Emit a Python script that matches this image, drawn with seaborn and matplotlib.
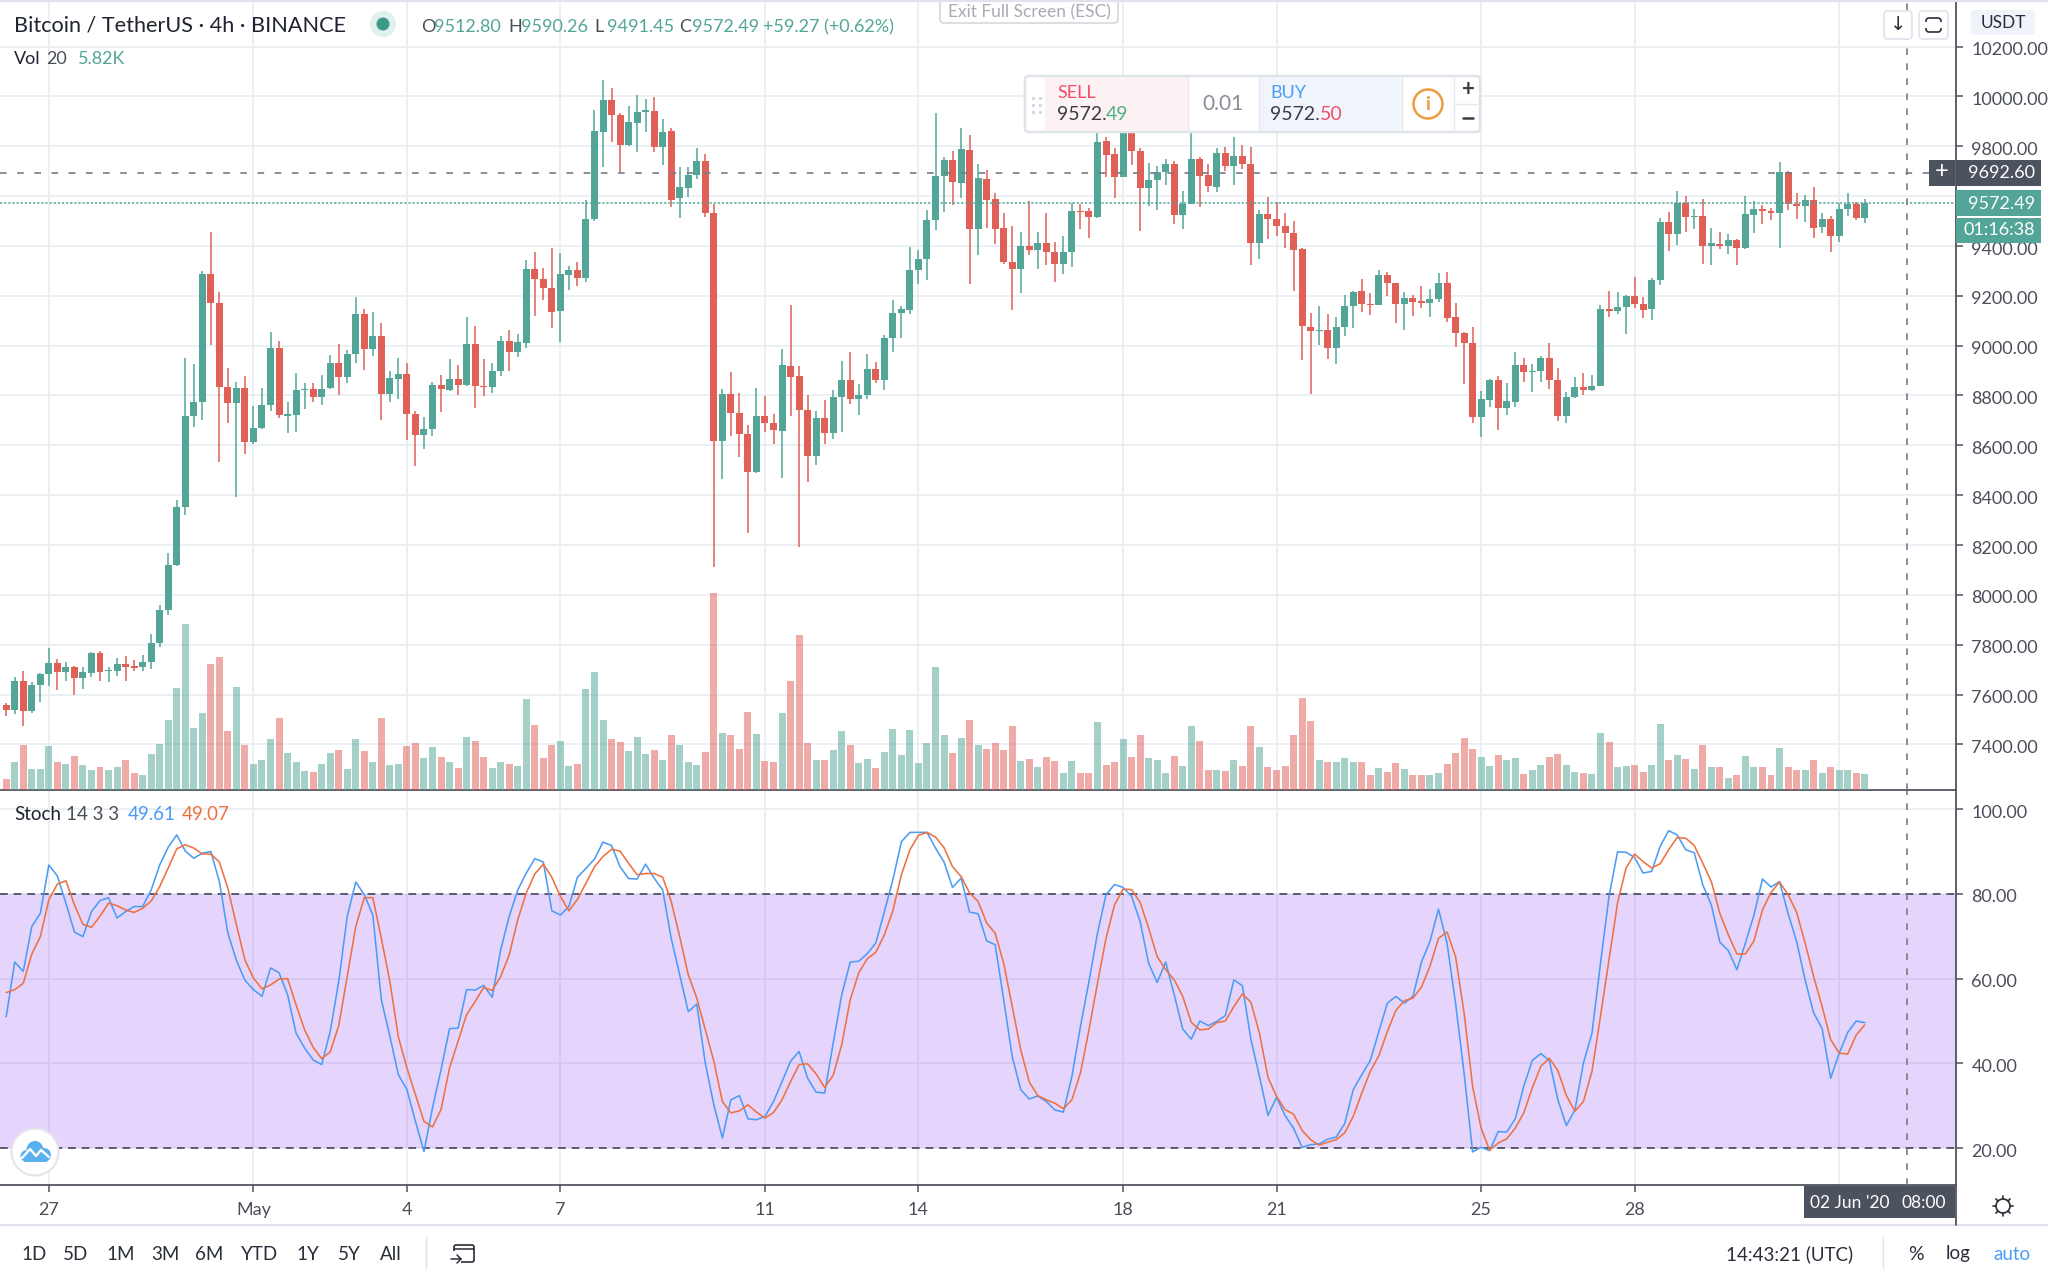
import matplotlib
matplotlib.use("Agg")
import matplotlib.pyplot as plt
from matplotlib.patches import Circle, Ellipse, FancyBboxPatch, Rectangle
from matplotlib.transforms import ScaledTranslation
import numpy as np
import pandas as pd
import seaborn as sns

# 4h candles
opens = [7560,7537,7653,7535,7639,7683,7725,7689,7710,7668,7687,7766,7694,7696,7721,7713,7710,7730,7806,7939,
8118,8353,8717,8772,9286,9173,8833,8770,8829,8615,8668,8761,8992,8719,8723,8822,8827,8795,8829,8932,
8873,8968,9129,8985,9040,8806,8865,8888,8727,8641,8666,8842,8822,8865,8842,9007,8840,8835,8899,9017,
8973,9011,9309,9267,9233,9138,9285,9302,9273,9510,9859,9985,9926,9804,9894,9939,9943,9797,9861,9592,
9634,9685,9740,9533,8617,8808,8730,8645,8493,8717,8691,8658,8920,8877,8740,8556,8711,8651,8795,8861,
8785,8803,8905,8861,9030,9131,9144,9305,9347,9505,9681,9746,9653,9787,9469,9670,9588,9472,9334,9309,
9400,9385,9410,9377,9326,9377,9541,9539,9516,9820,9770,9677,9890,9782,9632,9666,9696,9729,9526,9569,
9748,9683,9637,9772,9719,9761,9729,9410,9529,9508,9480,9453,9387,9076,9059,9063,8990,9074,9159,9218,
9169,9165,9283,9250,9167,9193,9176,9173,9188,9250,9114,9051,9011,8713,8782,8863,8748,8774,8922,8894,
8899,8951,8861,8719,8793,8835,8822,8839,9146,9140,9155,9201,9167,9146,9262,9495,9448,9571,9516,9520,
9398,9408,9398,9423,9391,9526,9548,9539,9531,9696,9569,9562,9584,9476,9510,9440,9550,9567,9512.80]
highs = [7565,7670,7693,7649,7687,7786,7742,7730,7715,7711,7770,7774,7711,7746,7755,7740,7759,7842,7958,8167,
8381,8951,8926,9298,9455,9216,8911,8854,8877,8759,8831,9055,9017,8772,8890,8852,8852,8884,8962,9006,
8981,9195,9146,9135,9089,8899,8951,8932,8736,8713,8856,8884,8947,8924,9116,9080,8947,8932,9038,9063,
9046,9345,9374,9311,9393,9372,9321,9334,9584,9947,10064,10032,9932,9960,10004,9990,9998,9911,9875,9715,
9715,9793,9770,9567,8827,8894,8812,8683,8831,8799,8725,8987,9163,8920,8803,8736,8780,8822,8939,8973,
8846,8968,8933,9042,9184,9161,9395,9383,9543,9935,9759,9780,9873,9844,9727,9706,9611,9533,9482,9455,
9582,9455,9533,9414,9440,9571,9567,9552,9899,9839,9795,9956,9918,9795,9732,9719,9749,9740,9620,9918,
9759,9727,9793,9799,9839,9806,9797,9543,9596,9577,9531,9501,9393,9133,9161,9129,9116,9203,9218,9266,
9212,9304,9294,9252,9214,9205,9241,9226,9292,9294,9173,9055,9076,8818,8867,8878,8852,8973,8949,8926,
8960,9011,8909,8814,8875,8892,8884,9165,9220,9214,9205,9277,9195,9271,9512,9535,9620,9601,9548,9588,
9474,9457,9448,9429,9600,9581,9563,9554,9738,9700,9611,9603,9636,9533,9522,9571,9613,9577,9590.26]
lows = [7514,7522,7472,7526,7569,7634,7619,7653,7598,7624,7672,7653,7649,7674,7656,7696,7693,7702,7791,7920,
8114,8319,8674,8700,9004,8533,8689,8391,8565,8607,8664,8738,8708,8649,8655,8746,8774,8761,8825,8803,
8852,8930,8903,8958,8702,8774,8785,8622,8516,8586,8636,8734,8818,8804,8839,8751,8797,8812,8880,8897,
8956,8990,9118,9184,9072,9015,9224,9241,9256,9499,9715,9818,9698,9803,9776,9856,9776,9725,9556,9514,
9596,9668,9516,8110,8463,8637,8552,8247,8491,8653,8605,8469,8719,8192,8452,8520,8605,8626,8653,8766,
8723,8787,8852,8822,8975,9030,9129,9248,9262,9463,9537,9565,9594,9248,9364,9472,9406,9328,9144,9212,
9362,9309,9324,9256,9286,9315,9470,9431,9514,9677,9592,9675,9725,9459,9560,9544,9643,9488,9467,9567,
9556,9615,9617,9702,9643,9708,9322,9347,9429,9440,9393,9220,8943,8806,9004,8947,8928,9038,9070,9135,
9125,9163,9201,9091,9064,9118,9150,9114,9176,9093,8994,8846,8691,8634,8755,8660,8721,8755,8854,8816,
8854,8827,8696,8691,8790,8803,8820,8837,9114,9129,9046,9152,9112,9102,9245,9381,9404,9457,9467,9328,
9324,9387,9366,9324,9387,9451,9489,9506,9393,9546,9508,9495,9431,9451,9374,9415,9522,9505,9491.45]
closes = [7537,7653,7535,7639,7683,7725,7689,7710,7668,7689,7768,7691,7700,7721,7710,7708,7730,7808,7939,8119,
8351,8717,8772,9286,9171,8833,8770,8829,8615,8670,8763,8992,8723,8725,8822,8827,8795,8827,8932,8873,
8966,9129,8987,9040,8806,8869,8888,8725,8641,8664,8842,8825,8865,8844,9007,8839,8835,8899,9017,8973,
9013,9309,9267,9233,9137,9286,9304,9273,9510,9861,9985,9924,9804,9897,9937,9945,9797,9859,9586,9636,
9685,9740,9533,8617,8808,8730,8645,8495,8717,8691,8660,8922,8875,8740,8556,8711,8651,8795,8861,8785,
8804,8907,8861,9030,9131,9146,9305,9347,9505,9681,9746,9655,9789,9469,9672,9586,9470,9334,9309,9400,
9383,9410,9377,9326,9377,9541,9537,9516,9818,9766,9677,9899,9782,9632,9666,9698,9729,9526,9569,9748,
9681,9639,9772,9719,9761,9729,9410,9529,9508,9480,9453,9385,9078,9059,9064,8989,9076,9159,9216,9167,
9163,9283,9250,9167,9193,9174,9173,9188,9250,9112,9051,9011,8713,8784,8863,8748,8778,8922,8894,8897,
8951,8861,8719,8795,8835,8823,8839,9146,9140,9155,9201,9167,9144,9264,9495,9448,9571,9516,9522,9398,
9410,9400,9423,9391,9527,9548,9539,9533,9696,9569,9562,9584,9472,9510,9440,9550,9569,9513,9572.49]

# volume in thousands
volume = [4.1,10.3,16.2,7.5,7.7,16.1,10.3,9.4,12.3,8.9,7.2,8.4,7.2,8.2,10.8,6.0,5.5,13.2,16.8,25.5,
36.9,60.2,22.4,27.7,45.5,48.1,21.2,37.3,16.2,9.4,10.9,18.6,26.0,13.3,10.3,7.0,6.5,9.4,13.3,14.4,
7.5,18.6,14.2,10.1,26.0,8.9,9.4,15.9,16.9,11.5,15.6,11.8,10.3,8.0,19.3,17.6,11.8,8.0,10.1,9.4,
8.7,32.8,23.4,11.5,16.4,17.8,8.7,9.4,36.4,42.8,25.3,18.6,17.4,14.2,19.3,13.2,14.4,10.8,19.8,16.4,
10.3,8.9,13.7,71.3,20.7,19.8,14.9,28.2,20.2,10.6,10.3,27.7,39.5,56.1,17.1,10.9,10.8,14.4,21.5,16.4,
9.7,11.1,8.0,13.7,22.1,12.5,21.7,9.7,17.1,44.6,20.0,13.3,19.0,25.3,16.4,14.9,16.9,14.5,23.1,10.6,
11.1,8.4,11.8,10.4,6.0,10.4,6.0,6.3,24.5,9.1,10.3,18.6,11.8,20.0,11.5,10.9,6.3,12.3,8.6,23.3,
17.6,7.2,7.2,6.8,10.8,8.6,23.1,15.4,8.2,7.2,8.6,20.0,33.2,25.0,10.9,10.3,10.3,11.6,10.3,10.3,
5.3,8.0,6.5,9.9,7.7,5.3,5.6,5.5,6.3,9.4,13.3,19.0,14.9,12.0,8.6,12.8,10.9,11.5,5.8,7.2,
9.1,12.0,13.2,9.1,6.5,6.3,5.8,20.5,17.4,8.2,8.6,8.9,6.5,9.1,23.8,10.9,12.5,11.1,7.7,16.4,
8.4,8.4,4.3,5.5,12.3,8.2,8.2,5.3,15.2,8.4,7.2,7.2,10.8,6.3,8.2,7.4,7.4,6.0,5.82]

stoch_k = [51,63.9,61.7,72.3,75.4,86.8,84.2,77.8,71,69.9,75.8,78.4,79.1,74.3,75.8,77,77,80.9,86.8,91,
93.9,90.1,88.4,89.6,90,82.9,70.7,64.3,59.6,57.4,55.8,62.5,61.4,56.2,47.1,43.6,40.8,39.7,47.5,59.3,
74.7,82.8,79.8,75,55,46.4,37.3,33.8,26.3,19.2,29.5,38.5,48.2,48.3,57.4,57.3,58.4,55.6,66.8,74.7,
80.9,84.9,88.3,87.5,76,75,77,83.9,86,88.2,92.2,91.4,86.4,83.6,83.5,87,83.7,80.9,69.5,60.9,
52.2,54,40,30.2,22.4,31.4,32.4,26.9,26.7,27.5,31,35.7,40.5,42.8,36.5,33.2,33,44.8,56.2,63.9,
64.1,65.9,68.4,75.8,83.3,92.3,94.5,94.5,94.5,90.8,87.5,81.5,83.7,75.7,75.3,68.9,68,55,41.6,33.8,
31.6,32.3,31,29,28.5,36.9,48.7,59.3,70.7,79.8,82.2,81.5,79.4,73.5,63.6,59.1,63.9,56.2,48.1,45.7,
50,48.9,49.9,51.3,59.7,58.3,45.6,36.9,27.7,32,27.7,24.7,20.2,20.8,21,22.1,22.6,25.8,33.8,37.3,
40.7,47.5,54.2,55.8,54.2,55.8,63.9,68.8,76.4,68.4,54.2,37.7,19.1,20.2,19.4,23.9,23.8,26.9,34.6,40.7,
42.3,40.7,31.4,25.3,29,40.1,47.1,63.6,79.4,89.9,89.8,88.6,84.9,85.3,91.2,94.9,93.9,90.4,89.7,82.1,
77.4,68.6,66.6,62.1,68.4,75,83.5,81.6,82.9,75.4,68.8,59.7,51.9,48.2,36.5,42.4,47.3,50,49.61]
stoch_d = [56.7,57.4,58.9,65.8,69.9,78.6,82.3,83.1,77.4,72.8,72.1,74.7,77.8,77.2,76.2,75.6,76.6,78.3,81.7,86.1,
90.6,91.6,90.8,89.4,89.4,87.5,81.3,72.7,64.4,60.1,57.6,58.5,59.9,60,53.8,47.9,43.8,41.1,42.7,48.9,
60.5,72.3,79.1,79.1,69.5,59.3,46.2,38.9,32.6,26.3,25,29.1,38.9,45.2,51.5,54.6,57.9,57.2,60.5,65.6,
73.9,80.2,84.7,87,83.9,79.4,76,78.7,82.5,86.4,88.8,90.5,90.1,87.2,84.5,84.8,84.8,83.9,78.2,69.9,
60.9,55.4,47.9,40.5,31,28.3,28.8,30.2,28.5,27.1,28.4,31.4,35.7,39.7,39.9,37.5,34.3,37.2,44.4,55,
61.4,64.7,66.2,70.3,76,84.5,90.4,93.8,94.5,93.4,90.9,86.4,84.1,80.2,78.2,73.1,70.7,63.6,53.4,43.2,
35.6,32.4,31.4,30.6,29.3,31.4,37.7,47.9,58.9,69.5,77.4,81.1,81,78,71.9,65.2,62.1,59.7,55.8,49.7,
47.9,48.1,49.6,50,53.4,56.4,54.4,47.1,36.7,32.2,29.1,28,24.2,22,20.7,21.4,22,23.6,27.5,33,
38.1,41.8,47.5,52.5,54.8,55.4,58,62.9,69.5,71,65.2,51.9,34.6,24.7,19.5,21.2,22.2,24.7,28.3,34.2,
39.3,41.2,38.3,32.4,28.7,31,38.1,51.1,64.4,77.8,86.1,89.4,87.6,86.1,87.1,90.4,93.3,93.1,91.4,87.2,
82.9,75.4,70.3,65.8,65.8,68.9,76.2,80.3,82.8,79.8,75.7,68.4,60.5,53.4,45.6,42.4,42.2,46.7,49.07]

price_ticks = list(range(7400, 10400, 200))
stoch_ticks = [20, 40, 60, 80, 100]
date_ticks = [5, 29, 47, 65, 89, 107, 131, 149, 173, 191, 215]
date_labels = ["27", "May", "4", "7", "11", "14", "18", "21", "25", "28", ""]
ranges = ["1D", "5D", "1M", "3M", "6M", "YTD", "1Y", "5Y", "All"]
range_x = [34, 76, 121, 165, 209, 259, 308, 349, 391]
last_price = 9572.49
cross_price = 9692.60
cross_bar = 223

GREEN = "#53a597"
RED = "#e05f57"
GRID = "#e9eff4"
AXIS = "#50535e"
TEXT = "#4a4e59"
DASH = "#787b86"
DARK = "#4c525e"

sns.set_style("white")
plt.rcParams["font.family"] = ["Lato", "DejaVu Sans"]

W, H = 2048, 1280
fig = plt.figure(figsize=(20.48, 12.8), dpi=100, facecolor="white")


def panel(top, bottom):
    return [0, 1 - bottom / H, 1956 / W, (bottom - top) / H]


ax = fig.add_axes(panel(0, 790))
axv = fig.add_axes(panel(0, 790), sharex=ax)
axs = fig.add_axes(panel(790, 1185), sharex=ax)
axv.patch.set_visible(False)
axv.set_zorder(2)
ax.set_zorder(1)

df = pd.DataFrame({"bar": range(219), "open": opens, "high": highs, "low": lows,
                   "close": closes, "volume": volume, "k": stoch_k, "d": stoch_d})
df["up"] = df["close"] >= df["open"]
colors = df["up"].map({True: GREEN, False: RED})

# volume under the candles
sns.barplot(data=df, x="bar", y="volume", hue="up", palette={True: GREEN, False: RED},
            native_scale=True, dodge=False, legend=False, width=0.82, saturation=1,
            alpha=0.52, linewidth=0, ax=axv)
axv.set_ylim(0, 286)
axv.axis("off")

# candles
ax.vlines(df["bar"], df["low"], df["high"], colors=colors, linewidth=1.1, zorder=3)
body = (df["close"] - df["open"]).abs().clip(lower=5)
ax.bar(df["bar"], body, bottom=df[["open", "close"]].min(axis=1), width=0.82, color=colors,
       linewidth=0, zorder=4)

ax.set_ylim(7217, 10387)
ax.set_yticks(price_ticks)
# 9600 sits behind the last price tag
ax.set_yticklabels(["" if p == 9600 else f"{p:.2f}" for p in price_ticks])
ax.axhline(cross_price, color=DASH, lw=1.2, dashes=(4, 6.3), zorder=5)
ax.axhline(last_price, color=GREEN, lw=1.1, dashes=(1.5, 1.2), zorder=5)

# stochastic
axs.axhspan(20, 80, color="#7e2ff0", alpha=0.2, lw=0, zorder=1)
sns.lineplot(data=df, x="bar", y="k", color="#4c9cf5", lw=1.15, ax=axs, zorder=4)
sns.lineplot(data=df, x="bar", y="d", color="#ee7140", lw=1.15, ax=axs, zorder=5)
axs.axhline(80, color="#5c5a6e", lw=1.4, dashes=(4, 3), zorder=3)
axs.axhline(20, color="#5c5a6e", lw=1.4, dashes=(4, 3), zorder=3)
axs.set_ylim(11.3, 104.5)
axs.set_yticks(stoch_ticks)
axs.set_yticklabels([f"{p:.2f}" for p in stoch_ticks])
axs.set_xlabel("")
axs.set_ylabel("")
ax.set_xlabel("")
ax.set_ylabel("")

for a in (ax, axs):
    a.set_facecolor("white")
    a.set_axisbelow(True)
    a.grid(True, color=GRID, lw=1.3)
    a.yaxis.tick_right()
    a.tick_params(axis="y", which="major", right=True, length=5, width=1.1, color=AXIS,
                  labelcolor=TEXT, labelsize=13, pad=6)
    a.axvline(cross_bar, color=DASH, lw=1.2, dashes=(4, 5), zorder=6)
    for side in ("left", "top"):
        a.spines[side].set_visible(False)
    for side in ("right", "bottom"):
        a.spines[side].set_visible(True)
        a.spines[side].set_color(AXIS)
        a.spines[side].set_linewidth(1.3)

ax.set_xticks(date_ticks)
ax.set_xlim(-0.73, 228.7)
ax.tick_params(axis="x", bottom=False, labelbottom=False)
axs.tick_params(axis="x", bottom=True, labelbottom=True, length=5, width=1.1, color=AXIS,
                labelcolor=TEXT, labelsize=13, pad=7)
axs.set_xticks(date_ticks)
axs.set_xticklabels(date_labels)

# nudge the price labels down a little
nudge = ScaledTranslation(0, -1.5 / 72, fig.dpi_scale_trans)
for a in (ax, axs):
    for lab in a.get_yticklabels():
        lab.set_transform(lab.get_transform() + nudge)

# everything around the plot goes on a pixel layer
top = fig.add_axes([0, 0, 1, 1], zorder=10)
top.set_xlim(0, W)
top.set_ylim(H, 0)
top.axis("off")


def txt(x, y, s, color=TEXT, size=13, ha="left", **kw):
    top.text(x, y, s, color=color, fontsize=size, ha=ha, va="center", **kw)


def box(x0, y0, x1, y1, color, **kw):
    top.add_patch(Rectangle((x0, y0), x1 - x0, y1 - y0, facecolor=color, edgecolor="none", linewidth=0, **kw))


def rbox(x0, y0, x1, y1, fc="white", ec="#e0e3eb", lw=1.2, r=4, **kw):
    top.add_patch(FancyBboxPatch((x0 + r, y0 + r), x1 - x0 - 2 * r, y1 - y0 - 2 * r,
                                 boxstyle=f"round,pad={r}", fc=fc, ec=ec, lw=lw, **kw))


top.plot([0, W], [1, 1], color="#e0e3eb", lw=1.5)

# legend lines
txt(14, 25, "Bitcoin / TetherUS · 4h · BINANCE", color="#1f2430", size=15.6)
top.add_patch(Ellipse((383, 24), 26, 26, fc="#dff0ed", ec="none"))
top.add_patch(Circle((383, 24), 6.5, fc="#3f9a8c", ec="none"))
for x, lab, val in [(421, "O", "9512.80"), (508, "H", "9590.26"), (594, "L", "9491.45"), (679, "C", "9572.49")]:
    txt(x, 27, lab, color=TEXT, size=13)
    txt(x + 13, 27, val, color=GREEN, size=13)
txt(763, 27, "+59.27 (+0.62%)", color=GREEN, size=13)
txt(14, 59, "Vol", color="#1f2430", size=13)
txt(46, 59, "20", color=TEXT, size=13)
txt(78, 59, "5.82K", color=GREEN, size=13)
txt(14, 814, "Stoch", color="#1f2430", size=13.5)
txt(66, 814, "14 3 3", color=TEXT, size=13.5)
txt(128, 814, "49.61", color="#4c9cf5", size=13.5)
txt(182, 814, "49.07", color="#ee7140", size=13.5)

# exit fullscreen hint
rbox(940, -6, 1118, 23, ec="#d6d8de")
txt(1029, 12, "Exit Full Screen (ESC)", color="#a8abb3", size=12.5, ha="center")

# trading panel
rbox(1025, 76, 1480, 132, ec="#dfe3ea", lw=1.8)
box(1045, 77, 1188, 131, "#fdf2f3")
box(1259, 77, 1402, 131, "#f0f5fc")
for x in (1188, 1259, 1402, 1454):
    top.plot([x, x], [77, 131], color="#e6e8ee", lw=1)
top.plot([1454, 1480], [104, 104], color="#e6e8ee", lw=1)
for gx in (1032, 1039):
    for gy in (97, 104, 111):
        box(gx, gy, gx + 3, gy + 3, "#d5d8de")
txt(1057, 93, "SELL", color="#f0506e", size=13)
txt(1057, 115, "9572.", color="#3a3d47", size=14)
txt(1106, 115, "49", color="#50b08c", size=14)
txt(1223, 104, "0.01", color="#8a8d96", size=15, ha="center")
txt(1270, 93, "BUY", color="#4c9cf5", size=13)
txt(1270, 115, "9572.", color="#3a3d47", size=14)
txt(1320, 115, "50", color="#f0506e", size=14)
top.add_patch(Circle((1428, 104), 14.5, fc="none", ec="#f09a3e", lw=1.8))
txt(1428, 104, "i", color="#f09a3e", size=14, ha="center", fontweight="bold")
txt(1468, 90, "+", color="#3a3d47", size=16, ha="center", fontweight="bold")
top.plot([1463, 1473], [118, 118], color="#3a3d47", lw=1.8)

# corner buttons
rbox(1884, 11, 1912, 39, ec="#e0e3eb")
txt(1898, 25, "↓", color="#2a2e39", size=14, ha="center", family="DejaVu Sans")
rbox(1919, 11, 1948, 39, ec="#e0e3eb")
rbox(1926, 18, 1941, 32, fc="none", ec="#2a2e39", lw=1.2, r=3)
box(1924, 22, 1943, 28, "white")
rbox(1971, 10, 2035, 35, fc="#f0f3fa", ec="none", lw=0)
txt(2003, 23, "USDT", color="#2a2e39", size=12.5, ha="center")

# price tags
box(1956, 160, 2041, 186, DARK)
box(1929, 160, 1955, 186, DARK)
txt(1942, 172, "+", color="white", size=17, ha="center")
txt(1968, 173, "9692.60", color="white", size=13)
box(1956, 190, 2041, 216, GREEN)
txt(1968, 204, "9572.49", color="white", size=13)
box(1956, 218, 2041, 243, GREEN)
txt(1963, 230, "01:16:38", color="white", size=13)

# time tag
box(1804, 1186, 1955, 1218, DARK)
txt(1850, 1203, "02 Jun '20", color="white", size=12.5, ha="center")
txt(1924, 1203, "08:00", color="white", size=12.5, ha="center")

# watermark
top.add_patch(Ellipse((35, 1152), 47, 47, fc="white", ec="#e4e4ea", lw=1.5))
top.add_patch(Ellipse((27, 1156), 13, 12, fc="#58b0ee", ec="none"))
top.add_patch(Ellipse((35, 1150), 17, 18, fc="#58b0ee", ec="none"))
top.add_patch(Ellipse((44, 1155), 14, 14, fc="#58b0ee", ec="none"))
box(24, 1155, 47, 1162, "#58b0ee")
top.plot([22, 30, 36, 41, 49], [1158, 1149, 1156, 1150, 1157], color="white", lw=1.7)

# bottom bar
top.plot([0, W], [1225, 1225], color="#e0e3eb", lw=1.5)
top.plot([1956, 1956], [1185, 1225], color=AXIS, lw=1.3)
for x, lab in zip(range_x, ranges):
    txt(x, 1254, lab, color="#2a2e39", size=13.5, ha="center")
top.plot([426, 426], [1237, 1268], color="#e0e3eb", lw=1)
rbox(454, 1245, 474, 1262, fc="none", ec="#2a2e39", lw=1.2, r=2)
box(450, 1251, 461, 1264, "white")
top.plot([454, 474], [1249, 1249], color="#2a2e39", lw=1.1)
top.plot([451, 461, 457], [1259, 1259, 1255], color="#2a2e39", lw=1.1)
top.plot([461, 457], [1259, 1263], color="#2a2e39", lw=1.1)
txt(1726, 1254, "14:43:21 (UTC)", color="#2a2e39", size=13.5)
top.plot([1883, 1883], [1237, 1268], color="#e0e3eb", lw=1)
txt(1916, 1254, "%", color="#2a2e39", size=14, ha="center")
txt(1958, 1254, "log", color="#2a2e39", size=13.5, ha="center")
txt(2012, 1254, "auto", color="#4c9cf5", size=13.5, ha="center")

# settings gear
top.add_patch(Circle((2003, 1206), 7, fc="none", ec="#2a2e39", lw=1.2))
for a in np.radians(range(0, 360, 45)):
    top.plot([2003 + 7 * np.cos(a), 2003 + 10 * np.cos(a)], [1206 + 7 * np.sin(a), 1206 + 10 * np.sin(a)],
             color="#2a2e39", lw=1.2)

fig.savefig("out.png", dpi=100)
